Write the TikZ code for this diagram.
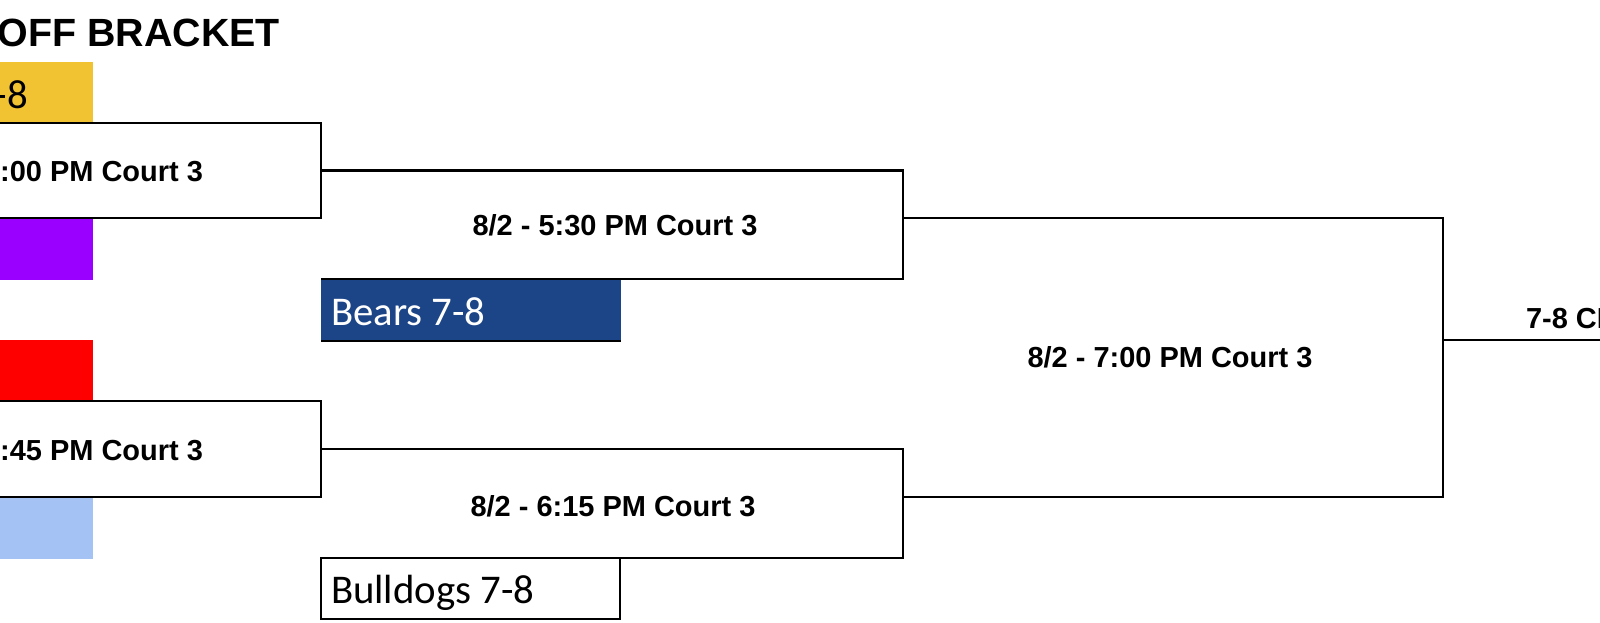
\documentclass[tikz,border=0pt]{standalone}
\usepackage{fontspec}
\setmainfont{Liberation Sans}
\newfontfamily\calibri{Carlito}
\usepackage{tikz}

\definecolor{gold}{HTML}{F1C232}
\definecolor{grape}{HTML}{9900FF}
\definecolor{cherry}{HTML}{FF0000}
\definecolor{skyblue}{HTML}{A4C2F4}
\definecolor{navy}{HTML}{1C4587}

\begin{document}
\begin{tikzpicture}[x=0.025cm, y=-0.025cm, line width=1.5pt]
    \tikzstyle{cell} = [inner sep=0pt, outer sep=0pt, anchor=north west,
	minimum width=2.325cm, minimum height=1.55cm]
    \tikzstyle{game} = [draw, inner sep=0pt, outer sep=0pt, anchor=north west]
    \tikzstyle{timetext} = [inner sep=0pt, anchor=base,
	font=\bfseries\fontsize{20.6}{24}\selectfont]
    \tikzstyle{teamtext} = [inner sep=0pt, anchor=base west,
	font=\calibri\fontsize{29}{34}\selectfont]

	\useasboundingbox (0,0) rectangle (1600,623);
	\clip (0,0) rectangle (1600,623);

	\begin{scope}
		\path
			node[inner sep=0pt, anchor=base east,
				font=\bfseries\fontsize{28}{33}\selectfont] (title) at (281,47) {OFF BRACKET}

			node[cell, fill=gold] (t_1) at (0,62) {}
			node[cell, fill=grape] (t_2) at (0,218) {}
			node[cell, fill=cherry] (t_3) at (0,340) {}
			node[cell, fill=skyblue] (t_4) at (0,497) {}

			node[game, minimum width=8.275cm, minimum height=2.375cm] (m_1) at (-10,123) {}
			node[game, minimum width=8.275cm, minimum height=2.4cm] (m_2) at (-10,401) {}

			node[cell, fill=navy, minimum width=7.5cm] (bears) at (321,279) {}
			node[game, minimum width=7.475cm, minimum height=1.525cm] (bulldogs) at (321,558) {}

			coordinate (j_1) at (903,218)
			coordinate (j_2) at (903,497)
			coordinate (j_3) at (1443,340)
			coordinate (c_end) at (1610,340)
		;

		\draw (bears.south west) -- (bears.south east);
		\draw (m_1.east) -| (j_1) |- (bears.north west);
		\draw (m_2.east) -| (j_2) |- (bulldogs.north west);
		\draw (j_1) -| (j_3) |- (j_2);
		\draw (j_3) -- (c_end);

		\path
			node[teamtext, anchor=base east] (n_1) at (29,109) {-8}
			node[teamtext, text=white] (n_2) at (330,325) {Bears 7-8}
			node[teamtext] (n_3) at (330,603) {Bulldogs 7-8}

			node[timetext, anchor=base east] (g_1) at (204,182) {:00 PM Court 3}
			node[timetext, anchor=base east] (g_2) at (204,460) {:45 PM Court 3}
			node[timetext] (g_3) at (615,236) {8/2 - 5:30 PM Court 3}
			node[timetext] (g_4) at (613,516) {8/2 - 6:15 PM Court 3}
			node[timetext] (g_5) at (1170,367) {8/2 - 7:00 PM Court 3}
			node[timetext, anchor=base west] (g_6) at (1525,328) {7-8 CH}
		;
	\end{scope}
\end{tikzpicture}
\end{document}
